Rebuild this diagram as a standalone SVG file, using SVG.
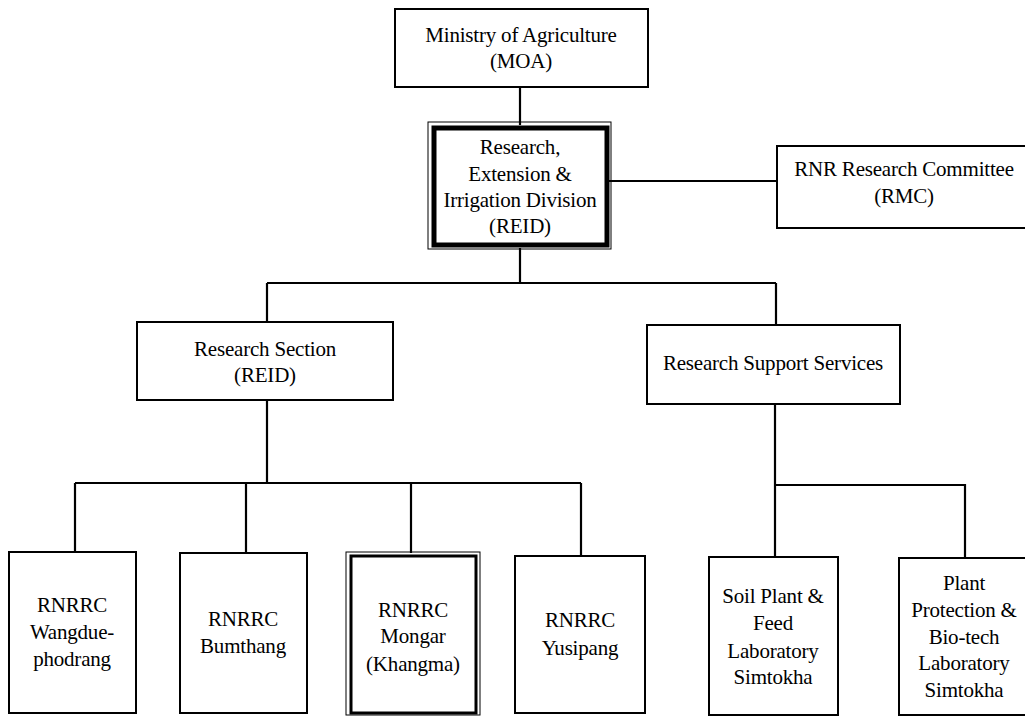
<svg xmlns="http://www.w3.org/2000/svg" width="1025" height="717" viewBox="0 0 1025 717" font-family="'Liberation Serif', 'Times New Roman', Tinos, 'DejaVu Serif', serif">
<style>
.box{fill:#fff;stroke:#000;stroke-width:2}
.thick{fill:#fff;stroke:#000;stroke-width:5}
.med{fill:#fff;stroke:#000;stroke-width:3}
.thin{fill:none;stroke:#000;stroke-width:1}
.ln{fill:none;stroke:#000;stroke-width:2.2}
text{font-size:21px;fill:#000;text-anchor:middle;letter-spacing:-0.2px}
</style>
<rect width="1025" height="717" fill="#fff"/>
<g id="connectors">
<path class="ln" d="M520,87 V125"/>
<path class="ln" d="M608,181 H777"/>
<path class="ln" d="M520,248 V283 M267,283 H776 M267,283 V322 M776,283 V325"/>
<path class="ln" d="M267,400 V483 M75,483 H581 M75,483 V552 M246,483 V553 M411,483 V553 M581,483 V556"/>
<path class="ln" d="M775,404 V557 M775,485 H965 V558"/>
</g>
<g id="moa">
<rect class="box" x="395" y="9" width="253" height="78"/>
<text x="521" y="42">Ministry of Agriculture</text>
<text x="521" y="68">(MOA)</text>
</g>
<g id="reid">
<rect class="thin" x="428" y="122" width="183" height="127"/>
<rect class="thick" x="434" y="128" width="173" height="117"/>
<text x="520" y="154">Research,</text>
<text x="520" y="181">Extension &amp;</text>
<text x="520" y="207">Irrigation Division</text>
<text x="520" y="233">(REID)</text>
</g>
<g id="rmc">
<rect class="box" x="777" y="146" width="260" height="82"/>
<text x="904" y="176">RNR Research Committee</text>
<text x="904" y="203">(RMC)</text>
</g>
<g id="research-section">
<rect class="box" x="137" y="322" width="256" height="78"/>
<text x="265" y="356">Research Section</text>
<text x="265" y="382">(REID)</text>
</g>
<g id="research-support">
<rect class="box" x="647" y="325" width="253" height="79"/>
<text x="773" y="370">Research Support Services</text>
</g>
<g id="wangdue">
<rect class="box" x="9" y="552" width="127" height="161"/>
<text x="72" y="612">RNRRC</text>
<text x="72" y="639">Wangdue-</text>
<text x="72" y="666">phodrang</text>
</g>
<g id="bumthang">
<rect class="box" x="180" y="553" width="127" height="160"/>
<text x="243" y="626">RNRRC</text>
<text x="243" y="653">Bumthang</text>
</g>
<g id="mongar">
<rect class="thin" x="346" y="552" width="134" height="163"/>
<rect class="med" x="351" y="556" width="125" height="157"/>
<text x="413" y="617">RNRRC</text>
<text x="413" y="643">Mongar</text>
<text x="413" y="671">(Khangma)</text>
</g>
<g id="yusipang">
<rect class="box" x="515" y="556" width="130" height="157"/>
<text x="580" y="627">RNRRC</text>
<text x="580" y="655">Yusipang</text>
</g>
<g id="soil-lab">
<rect class="box" x="709" y="557" width="129" height="158"/>
<text x="773" y="603">Soil Plant &amp;</text>
<text x="773" y="630">Feed</text>
<text x="773" y="658">Laboratory</text>
<text x="773" y="684">Simtokha</text>
</g>
<g id="plant-lab">
<rect class="box" x="899" y="558" width="140" height="157"/>
<text x="964" y="590">Plant</text>
<text x="964" y="617">Protection &amp;</text>
<text x="964" y="644">Bio-tech</text>
<text x="964" y="670">Laboratory</text>
<text x="964" y="697">Simtokha</text>
</g>
</svg>
